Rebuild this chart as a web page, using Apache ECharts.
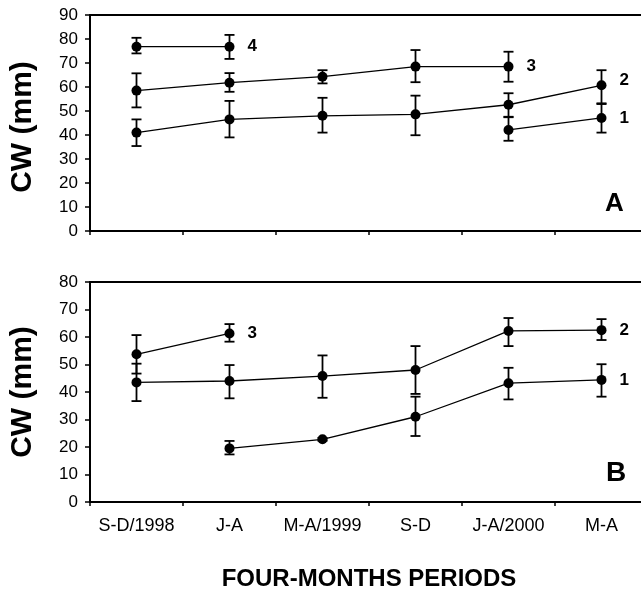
<!DOCTYPE html>
<html>
<head>
<meta charset="utf-8">
<script src="https://cdn.jsdelivr.net/npm/echarts@6/dist/echarts.min.js"></script>
<style>
  html, body { margin: 0; padding: 0; background: #fff; }
  #chart { width: 641px; height: 598px; }
</style>
</head>
<body>
<div id="chart"></div>
<script>
// four-month periods
const periods = ['S-D/1998', 'J-A', 'M-A/1999', 'S-D', 'J-A/2000', 'M-A']

// panel A: mean CW and error (low/high) per cohort, null = not sampled
const a1 = [null, null, null, null, 42.1, 47.1]
const a1Lo = [null, null, null, null, 37.6, 41]
const a1Hi = [null, null, null, null, 47.4, 52.9]
const a2 = [41, 46.5, 48, 48.6, 52.6, 60.7]
const a2Lo = [35.4, 39, 41, 39.9, 47.6, 53.2]
const a2Hi = [46.5, 54.2, 55.5, 56.4, 57.4, 67]
const a3 = [58.5, 61.8, 64.3, 68.5, 68.5, null]
const a3Lo = [51.5, 58, 61.5, 62, 62.2, null]
const a3Hi = [65.7, 65.8, 67, 75.4, 74.7, null]
const a4 = [76.8, 76.8, null, null, null, null]
const a4Lo = [74, 71.7, null, null, null, null]
const a4Hi = [80.5, 81.7, null, null, null, null]

// panel B
const b1 = [null, 19.5, 22.8, 31, 43.2, 44.4]
const b1Lo = [null, 17.3, 22.3, 24, 37.3, 38.3]
const b1Hi = [null, 22.2, 23.3, 38.3, 48.8, 50.1]
const b2 = [43.5, 44, 45.8, 48, 62.2, 62.5]
const b2Lo = [36.7, 37.7, 37.9, 39.3, 56.7, 58.9]
const b2Hi = [50.3, 49.8, 53.3, 56.7, 66.9, 66.5]
const b3 = [53.7, 61.3, null, null, null, null]
const b3Lo = [46.7, 58.3, null, null, null, null]
const b3Hi = [60.7, 64.7, null, null, null, null]

const yTicksA = { min: 0, max: 90, interval: 10 }
const yTicksB = { min: 0, max: 80, interval: 10 }

const font = 'Liberation Sans, Arial, sans-serif'

function lineSeries(vals, name, idx, labelOffset) {
  let last = -1
  vals.forEach((v, i) => { if (v != null) last = i })
  return {
    type: 'line',
    xAxisIndex: idx,
    yAxisIndex: idx,
    symbol: 'circle',
    symbolSize: 10,
    z: 3,
    itemStyle: { color: '#000' },
    lineStyle: { color: '#000', width: 1.3 },
    data: vals.map((v, i) => {
      if (v == null) return '-'
      if (i !== last) return v
      return {
        value: v,
        label: {
          show: true, position: 'right', distance: 13,
          formatter: name, color: '#000', fontFamily: font,
          fontWeight: 'bold', fontSize: 17, offset: labelOffset || [0, 0]
        }
      }
    })
  }
}

function errorSeries(lo, hi, idx) {
  const data = []
  lo.forEach((v, i) => { if (v != null) data.push([i, v, hi[i]]) })
  return {
    type: 'custom',
    xAxisIndex: idx,
    yAxisIndex: idx,
    z: 2,
    data: data,
    renderItem: (params, api) => {
      const p1 = api.coord([api.value(0), api.value(1)])
      const p2 = api.coord([api.value(0), api.value(2)])
      const w = 5
      const st = { stroke: '#000', lineWidth: 1.8 }
      return {
        type: 'group',
        children: [
          { type: 'line', shape: { x1: p1[0], y1: p1[1], x2: p2[0], y2: p2[1] }, style: st },
          { type: 'line', shape: { x1: p1[0] - w, y1: p1[1], x2: p1[0] + w, y2: p1[1] }, style: st },
          { type: 'line', shape: { x1: p2[0] - w, y1: p2[1], x2: p2[0] + w, y2: p2[1] }, style: st }
        ]
      }
    }
  }
}

function xAxis(idx, showLabels) {
  return {
    type: 'category',
    gridIndex: idx,
    data: periods,
    boundaryGap: true,
    axisLine: { lineStyle: { color: '#000', width: 2 } },
    axisTick: { show: true, interval: 0, length: 4, lineStyle: { color: '#000', width: 1.5 } },
    axisLabel: { show: showLabels, interval: 0, color: '#000', fontFamily: font, fontSize: 18, margin: 15 },
    splitLine: { show: false }
  }
}

function yAxis(idx, ticks, pad) {
  return Object.assign({
    type: 'value',
    gridIndex: idx,
    name: 'CW (mm)',
    nameLocation: 'middle',
    nameRotate: 90,
    nameGap: 52,
    nameTextStyle: { color: '#000', fontFamily: font, fontWeight: 'bold', fontSize: 30, padding: pad },
    axisLine: { show: true, lineStyle: { color: '#000', width: 2 } },
    axisTick: { show: true, length: 5, lineStyle: { color: '#000', width: 1.5 } },
    axisLabel: { color: '#000', fontFamily: font, fontSize: 17, margin: 12 },
    splitLine: { show: false }
  }, ticks)
}

const xB = xAxis(1, true)
xB.name = 'FOUR-MONTHS PERIODS'
xB.nameLocation = 'middle'
xB.nameGap = 65
xB.nameTextStyle = { color: '#000', fontFamily: font, fontWeight: 'bold', fontSize: 24 }

const chart = echarts.init(document.getElementById('chart'))
chart.setOption({
  backgroundColor: '#fff',
  animation: false,
  title: [
    { text: 'A', left: 600, top: 186, textStyle: { fontFamily: font, fontWeight: 'bold', fontSize: 26, color: '#000' } },
    { text: 'B', left: 601, top: 454, textStyle: { fontFamily: font, fontWeight: 'bold', fontSize: 28, color: '#000' } }
  ],
  grid: [
    { left: 90, top: 15, width: 558, height: 216, outerBoundsMode: 'none', containLabel: false, show: true, borderColor: '#000', borderWidth: 2 },
    { left: 90, top: 282, width: 558, height: 220, outerBoundsMode: 'none', containLabel: false, show: true, borderColor: '#000', borderWidth: 2 }
  ],
  xAxis: [xAxis(0, false), xB],
  yAxis: [yAxis(0, yTicksA, [0, 8, 0, 0]), yAxis(1, yTicksB, [0, 0, 0, 0])],
  series: [
    errorSeries(a1Lo, a1Hi, 0), errorSeries(a2Lo, a2Hi, 0),
    errorSeries(a3Lo, a3Hi, 0), errorSeries(a4Lo, a4Hi, 0),
    lineSeries(a1, '1', 0), lineSeries(a2, '2', 0, [0, -5]),
    lineSeries(a3, '3', 0), lineSeries(a4, '4', 0),
    errorSeries(b1Lo, b1Hi, 1), errorSeries(b2Lo, b2Hi, 1), errorSeries(b3Lo, b3Hi, 1),
    lineSeries(b1, '1', 1), lineSeries(b2, '2', 1), lineSeries(b3, '3', 1)
  ]
})
</script>
</body>
</html>
